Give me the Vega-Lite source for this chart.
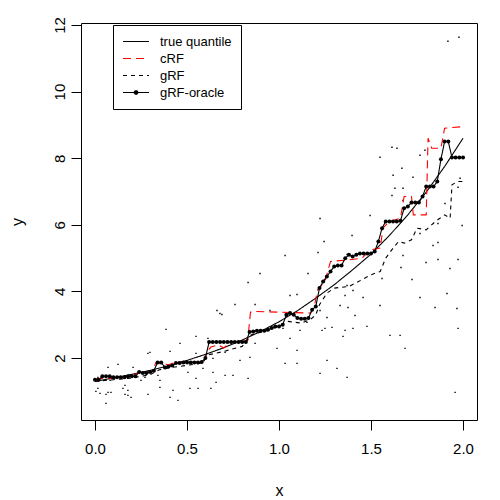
{
  "$schema": "https://vega.github.io/schema/vega-lite/v6.json",
  "autosize": "none",
  "width": 396,
  "height": 397,
  "padding": {"left": 81, "top": 23, "right": 23, "bottom": 80},
  "background": "white",
  "config": {
    "view": {"stroke": "black", "strokeWidth": 1},
    "font": "Liberation Sans",
    "axis": {"grid": false, "domain": false, "tickColor": "black", "tickSize": 10, "labelFont": "Liberation Sans", "labelFontSize": 15, "labelColor": "black", "titleFont": "Liberation Sans", "titleFontSize": 16, "titleFontWeight": "normal", "titleColor": "black"}
  },
  "datasets": {
    "scatter": [
      {"x": 1.978, "y": 11.63}, {"x": 1.918, "y": 11.51}, {"x": 1.614, "y": 8.33}, {"x": 1.641, "y": 8.3}, {"x": 1.549, "y": 8.03},
      {"x": 1.766, "y": 8.09}, {"x": 1.793, "y": 8.24}, {"x": 1.668, "y": 7.7}, {"x": 1.62, "y": 7.49}, {"x": 1.728, "y": 7.43},
      {"x": 1.63, "y": 7.1}, {"x": 1.984, "y": 7.4}, {"x": 1.973, "y": 7.13}, {"x": 1.674, "y": 6.73}, {"x": 1.902, "y": 6.64},
      {"x": 1.614, "y": 6.88}, {"x": 1.674, "y": 7.1}, {"x": 1.495, "y": 6.28}, {"x": 1.864, "y": 6.04}, {"x": 1.995, "y": 5.98},
      {"x": 1.397, "y": 5.68}, {"x": 1.245, "y": 5.5}, {"x": 1.223, "y": 6.19}, {"x": 1.864, "y": 5.47}, {"x": 1.837, "y": 5.38},
      {"x": 1.766, "y": 5.74}, {"x": 1.674, "y": 5.08}, {"x": 1.799, "y": 4.87}, {"x": 1.864, "y": 4.96}, {"x": 1.973, "y": 4.96},
      {"x": 1.929, "y": 4.69}, {"x": 1.663, "y": 4.72}, {"x": 1.723, "y": 4.36}, {"x": 1.56, "y": 4.39}, {"x": 1.457, "y": 3.82},
      {"x": 1.402, "y": 4.03}, {"x": 1.332, "y": 3.58}, {"x": 1.223, "y": 3.43}, {"x": 1.375, "y": 3.52}, {"x": 1.413, "y": 3.28},
      {"x": 1.549, "y": 3.58}, {"x": 1.848, "y": 3.52}, {"x": 1.967, "y": 3.49}, {"x": 1.402, "y": 2.89}, {"x": 1.288, "y": 2.92},
      {"x": 1.234, "y": 2.83}, {"x": 1.348, "y": 2.65}, {"x": 1.603, "y": 2.68}, {"x": 1.658, "y": 2.68}, {"x": 1.478, "y": 2.95},
      {"x": 1.913, "y": 3.94}, {"x": 1.766, "y": 3.82}, {"x": 1.973, "y": 2.89}, {"x": 1.685, "y": 2.29}, {"x": 1.957, "y": 0.97},
      {"x": 1.212, "y": 5.17}, {"x": 1.37, "y": 5.11}, {"x": 1.033, "y": 5.08}, {"x": 0.897, "y": 4.54}, {"x": 1.158, "y": 4.54},
      {"x": 0.832, "y": 4.27}, {"x": 1.37, "y": 4.18}, {"x": 0.761, "y": 3.61}, {"x": 0.87, "y": 3.61}, {"x": 1.06, "y": 3.88},
      {"x": 1.098, "y": 3.91}, {"x": 1.359, "y": 3.88}, {"x": 0.951, "y": 3.43}, {"x": 0.679, "y": 3.34}, {"x": 1.261, "y": 3.22},
      {"x": 1.25, "y": 2.89}, {"x": 1.359, "y": 2.83}, {"x": 1.152, "y": 3.07}, {"x": 1.005, "y": 2.98}, {"x": 1.022, "y": 2.89},
      {"x": 0.614, "y": 2.59}, {"x": 1.06, "y": 2.59}, {"x": 0.87, "y": 2.44}, {"x": 0.989, "y": 2.29}, {"x": 1.098, "y": 2.23},
      {"x": 0.707, "y": 2.17}, {"x": 0.842, "y": 2.02}, {"x": 0.641, "y": 1.99}, {"x": 1.033, "y": 1.84}, {"x": 0.788, "y": 1.93},
      {"x": 1.261, "y": 1.93}, {"x": 0.587, "y": 1.69}, {"x": 0.75, "y": 1.48}, {"x": 0.832, "y": 1.39}, {"x": 1.098, "y": 1.84},
      {"x": 1.223, "y": 1.54}, {"x": 1.315, "y": 1.69}, {"x": 1.37, "y": 1.42}, {"x": 1.114, "y": 2.83},
      {"x": 0.386, "y": 2.86}, {"x": 0.663, "y": 3.43}, {"x": 0.69, "y": 3.31}, {"x": 0.288, "y": 2.14}, {"x": 0.299, "y": 2.17},
      {"x": 0.408, "y": 2.2}, {"x": 0.549, "y": 2.65}, {"x": 0.462, "y": 2.44}, {"x": 0.549, "y": 2.14}, {"x": 0.125, "y": 1.81},
      {"x": 0.071, "y": 1.72}, {"x": 0.207, "y": 1.72}, {"x": 0.342, "y": 1.48}, {"x": 0.353, "y": 1.33}, {"x": 0.505, "y": 1.57},
      {"x": 0.549, "y": 1.39}, {"x": 0.641, "y": 1.57}, {"x": 0.658, "y": 1.27}, {"x": 0.707, "y": 1.48}, {"x": 0.63, "y": 1.09},
      {"x": 0.163, "y": 1.18}, {"x": 0.152, "y": 1.09}, {"x": 0.179, "y": 1.03}, {"x": 0.071, "y": 0.97}, {"x": 0.016, "y": 1.09},
      {"x": 0.087, "y": 0.97}, {"x": 0.06, "y": 0.64}, {"x": 0.179, "y": 0.88}, {"x": 0.196, "y": 0.82}, {"x": 0.163, "y": 0.91},
      {"x": 0.288, "y": 0.91}, {"x": 0.408, "y": 0.82}, {"x": 0.451, "y": 0.73}, {"x": 0.424, "y": 1.03}, {"x": 0.516, "y": 1.09},
      {"x": 0.56, "y": 1.09}, {"x": 0.272, "y": 1.42}, {"x": 0.016, "y": 1.42}, {"x": 0.082, "y": 1.33}, {"x": 0.027, "y": 0.94},
      {"x": 0.005, "y": 1.0}, {"x": 0.06, "y": 0.91}, {"x": 0.25, "y": 1.33}, {"x": 0.353, "y": 1.12}
    ],
    "curves": [
      {"s": "true quantile", "x": 0.0, "y": 1.3}, {"s": "true quantile", "x": 0.1, "y": 1.4}, {"s": "true quantile", "x": 0.2, "y": 1.51},
      {"s": "true quantile", "x": 0.3, "y": 1.63}, {"s": "true quantile", "x": 0.4, "y": 1.77}, {"s": "true quantile", "x": 0.5, "y": 1.93},
      {"s": "true quantile", "x": 0.6, "y": 2.11}, {"s": "true quantile", "x": 0.7, "y": 2.31}, {"s": "true quantile", "x": 0.8, "y": 2.54},
      {"s": "true quantile", "x": 0.9, "y": 2.8}, {"s": "true quantile", "x": 1.0, "y": 3.09}, {"s": "true quantile", "x": 1.1, "y": 3.42},
      {"s": "true quantile", "x": 1.2, "y": 3.8}, {"s": "true quantile", "x": 1.3, "y": 4.2}, {"s": "true quantile", "x": 1.4, "y": 4.65},
      {"s": "true quantile", "x": 1.5, "y": 5.12}, {"s": "true quantile", "x": 1.6, "y": 5.68}, {"s": "true quantile", "x": 1.7, "y": 6.3},
      {"s": "true quantile", "x": 1.8, "y": 6.98}, {"s": "true quantile", "x": 1.9, "y": 7.75}, {"s": "true quantile", "x": 2.0, "y": 8.6},
      {"s": "cRF", "x": 0.0, "y": 1.38}, {"s": "cRF", "x": 0.12, "y": 1.4}, {"s": "cRF", "x": 0.2, "y": 1.45}, {"s": "cRF", "x": 0.24, "y": 1.58},
      {"s": "cRF", "x": 0.31, "y": 1.58}, {"s": "cRF", "x": 0.33, "y": 1.85}, {"s": "cRF", "x": 0.4, "y": 1.8}, {"s": "cRF", "x": 0.44, "y": 1.88},
      {"s": "cRF", "x": 0.59, "y": 1.88}, {"s": "cRF", "x": 0.61, "y": 2.2}, {"s": "cRF", "x": 0.63, "y": 2.33}, {"s": "cRF", "x": 0.67, "y": 2.4},
      {"s": "cRF", "x": 0.7, "y": 2.3}, {"s": "cRF", "x": 0.73, "y": 2.45}, {"s": "cRF", "x": 0.83, "y": 2.53}, {"s": "cRF", "x": 0.845, "y": 3.38},
      {"s": "cRF", "x": 0.86, "y": 3.4}, {"s": "cRF", "x": 1.17, "y": 3.35}, {"s": "cRF", "x": 1.19, "y": 3.5}, {"s": "cRF", "x": 1.21, "y": 4.05},
      {"s": "cRF", "x": 1.25, "y": 4.3}, {"s": "cRF", "x": 1.28, "y": 4.9}, {"s": "cRF", "x": 1.38, "y": 4.95}, {"s": "cRF", "x": 1.45, "y": 5.0},
      {"s": "cRF", "x": 1.5, "y": 5.25}, {"s": "cRF", "x": 1.55, "y": 5.3}, {"s": "cRF", "x": 1.565, "y": 5.9}, {"s": "cRF", "x": 1.6, "y": 6.1},
      {"s": "cRF", "x": 1.66, "y": 6.2}, {"s": "cRF", "x": 1.68, "y": 6.85}, {"s": "cRF", "x": 1.72, "y": 6.85}, {"s": "cRF", "x": 1.73, "y": 6.3},
      {"s": "cRF", "x": 1.8, "y": 6.3}, {"s": "cRF", "x": 1.81, "y": 8.6}, {"s": "cRF", "x": 1.83, "y": 8.3}, {"s": "cRF", "x": 1.88, "y": 8.3},
      {"s": "cRF", "x": 1.9, "y": 8.9}, {"s": "cRF", "x": 2.0, "y": 8.95},
      {"s": "gRF", "x": 0.0, "y": 1.3}, {"s": "gRF", "x": 0.1, "y": 1.35}, {"s": "gRF", "x": 0.2, "y": 1.4}, {"s": "gRF", "x": 0.3, "y": 1.5},
      {"s": "gRF", "x": 0.35, "y": 1.65}, {"s": "gRF", "x": 0.42, "y": 1.72}, {"s": "gRF", "x": 0.5, "y": 1.78}, {"s": "gRF", "x": 0.58, "y": 1.85},
      {"s": "gRF", "x": 0.62, "y": 2.1}, {"s": "gRF", "x": 0.7, "y": 2.2}, {"s": "gRF", "x": 0.8, "y": 2.35}, {"s": "gRF", "x": 0.85, "y": 2.7},
      {"s": "gRF", "x": 0.92, "y": 2.8}, {"s": "gRF", "x": 1.0, "y": 2.95}, {"s": "gRF", "x": 1.05, "y": 3.1}, {"s": "gRF", "x": 1.12, "y": 3.05},
      {"s": "gRF", "x": 1.17, "y": 3.15}, {"s": "gRF", "x": 1.2, "y": 3.3}, {"s": "gRF", "x": 1.22, "y": 3.6}, {"s": "gRF", "x": 1.26, "y": 3.95},
      {"s": "gRF", "x": 1.3, "y": 4.1}, {"s": "gRF", "x": 1.38, "y": 4.15}, {"s": "gRF", "x": 1.45, "y": 4.35}, {"s": "gRF", "x": 1.5, "y": 4.5},
      {"s": "gRF", "x": 1.55, "y": 4.6}, {"s": "gRF", "x": 1.58, "y": 5.0}, {"s": "gRF", "x": 1.62, "y": 5.3}, {"s": "gRF", "x": 1.65, "y": 5.5},
      {"s": "gRF", "x": 1.68, "y": 5.45}, {"s": "gRF", "x": 1.72, "y": 5.55}, {"s": "gRF", "x": 1.75, "y": 5.9}, {"s": "gRF", "x": 1.8, "y": 5.85},
      {"s": "gRF", "x": 1.85, "y": 6.1}, {"s": "gRF", "x": 1.9, "y": 6.3}, {"s": "gRF", "x": 1.93, "y": 6.2}, {"s": "gRF", "x": 1.94, "y": 7.2},
      {"s": "gRF", "x": 1.97, "y": 7.3}, {"s": "gRF", "x": 2.0, "y": 7.3},
      {"s": "gRF-oracle", "x": 0.0, "y": 1.35}, {"s": "gRF-oracle", "x": 0.02, "y": 1.35}, {"s": "gRF-oracle", "x": 0.04, "y": 1.45},
      {"s": "gRF-oracle", "x": 0.06, "y": 1.45}, {"s": "gRF-oracle", "x": 0.08, "y": 1.45}, {"s": "gRF-oracle", "x": 0.1, "y": 1.42},
      {"s": "gRF-oracle", "x": 0.12, "y": 1.42}, {"s": "gRF-oracle", "x": 0.14, "y": 1.42}, {"s": "gRF-oracle", "x": 0.16, "y": 1.42},
      {"s": "gRF-oracle", "x": 0.18, "y": 1.45}, {"s": "gRF-oracle", "x": 0.2, "y": 1.45}, {"s": "gRF-oracle", "x": 0.22, "y": 1.45},
      {"s": "gRF-oracle", "x": 0.24, "y": 1.58}, {"s": "gRF-oracle", "x": 0.26, "y": 1.55}, {"s": "gRF-oracle", "x": 0.28, "y": 1.55},
      {"s": "gRF-oracle", "x": 0.3, "y": 1.58}, {"s": "gRF-oracle", "x": 0.32, "y": 1.62}, {"s": "gRF-oracle", "x": 0.34, "y": 1.87},
      {"s": "gRF-oracle", "x": 0.36, "y": 1.87}, {"s": "gRF-oracle", "x": 0.38, "y": 1.72}, {"s": "gRF-oracle", "x": 0.4, "y": 1.75},
      {"s": "gRF-oracle", "x": 0.42, "y": 1.78}, {"s": "gRF-oracle", "x": 0.44, "y": 1.85}, {"s": "gRF-oracle", "x": 0.46, "y": 1.85},
      {"s": "gRF-oracle", "x": 0.48, "y": 1.87}, {"s": "gRF-oracle", "x": 0.5, "y": 1.87}, {"s": "gRF-oracle", "x": 0.52, "y": 1.87},
      {"s": "gRF-oracle", "x": 0.54, "y": 1.87}, {"s": "gRF-oracle", "x": 0.56, "y": 1.87}, {"s": "gRF-oracle", "x": 0.58, "y": 1.88},
      {"s": "gRF-oracle", "x": 0.6, "y": 2.0}, {"s": "gRF-oracle", "x": 0.62, "y": 2.48}, {"s": "gRF-oracle", "x": 0.64, "y": 2.48},
      {"s": "gRF-oracle", "x": 0.66, "y": 2.48}, {"s": "gRF-oracle", "x": 0.68, "y": 2.48}, {"s": "gRF-oracle", "x": 0.7, "y": 2.48},
      {"s": "gRF-oracle", "x": 0.72, "y": 2.48}, {"s": "gRF-oracle", "x": 0.74, "y": 2.48}, {"s": "gRF-oracle", "x": 0.76, "y": 2.48},
      {"s": "gRF-oracle", "x": 0.78, "y": 2.48}, {"s": "gRF-oracle", "x": 0.8, "y": 2.48}, {"s": "gRF-oracle", "x": 0.82, "y": 2.48},
      {"s": "gRF-oracle", "x": 0.84, "y": 2.78}, {"s": "gRF-oracle", "x": 0.86, "y": 2.8}, {"s": "gRF-oracle", "x": 0.88, "y": 2.82},
      {"s": "gRF-oracle", "x": 0.9, "y": 2.82}, {"s": "gRF-oracle", "x": 0.92, "y": 2.82}, {"s": "gRF-oracle", "x": 0.94, "y": 2.85},
      {"s": "gRF-oracle", "x": 0.96, "y": 2.9}, {"s": "gRF-oracle", "x": 0.98, "y": 2.95}, {"s": "gRF-oracle", "x": 1.0, "y": 2.95},
      {"s": "gRF-oracle", "x": 1.02, "y": 3.0}, {"s": "gRF-oracle", "x": 1.04, "y": 3.3}, {"s": "gRF-oracle", "x": 1.06, "y": 3.35},
      {"s": "gRF-oracle", "x": 1.08, "y": 3.3}, {"s": "gRF-oracle", "x": 1.1, "y": 3.2}, {"s": "gRF-oracle", "x": 1.12, "y": 3.18},
      {"s": "gRF-oracle", "x": 1.14, "y": 3.18}, {"s": "gRF-oracle", "x": 1.16, "y": 3.2}, {"s": "gRF-oracle", "x": 1.18, "y": 3.45},
      {"s": "gRF-oracle", "x": 1.2, "y": 3.55}, {"s": "gRF-oracle", "x": 1.22, "y": 4.1}, {"s": "gRF-oracle", "x": 1.24, "y": 4.3},
      {"s": "gRF-oracle", "x": 1.26, "y": 4.45}, {"s": "gRF-oracle", "x": 1.28, "y": 4.6}, {"s": "gRF-oracle", "x": 1.3, "y": 4.75},
      {"s": "gRF-oracle", "x": 1.32, "y": 4.78}, {"s": "gRF-oracle", "x": 1.34, "y": 4.78}, {"s": "gRF-oracle", "x": 1.36, "y": 5.0},
      {"s": "gRF-oracle", "x": 1.38, "y": 5.1}, {"s": "gRF-oracle", "x": 1.4, "y": 5.05}, {"s": "gRF-oracle", "x": 1.42, "y": 5.1},
      {"s": "gRF-oracle", "x": 1.44, "y": 5.14}, {"s": "gRF-oracle", "x": 1.46, "y": 5.14}, {"s": "gRF-oracle", "x": 1.48, "y": 5.14},
      {"s": "gRF-oracle", "x": 1.5, "y": 5.14}, {"s": "gRF-oracle", "x": 1.52, "y": 5.2}, {"s": "gRF-oracle", "x": 1.54, "y": 5.5},
      {"s": "gRF-oracle", "x": 1.56, "y": 5.9}, {"s": "gRF-oracle", "x": 1.58, "y": 6.1}, {"s": "gRF-oracle", "x": 1.6, "y": 6.1},
      {"s": "gRF-oracle", "x": 1.62, "y": 6.1}, {"s": "gRF-oracle", "x": 1.64, "y": 6.1}, {"s": "gRF-oracle", "x": 1.66, "y": 6.12},
      {"s": "gRF-oracle", "x": 1.68, "y": 6.5}, {"s": "gRF-oracle", "x": 1.7, "y": 6.55}, {"s": "gRF-oracle", "x": 1.72, "y": 6.67},
      {"s": "gRF-oracle", "x": 1.74, "y": 6.67}, {"s": "gRF-oracle", "x": 1.76, "y": 6.67}, {"s": "gRF-oracle", "x": 1.78, "y": 6.85},
      {"s": "gRF-oracle", "x": 1.8, "y": 7.15}, {"s": "gRF-oracle", "x": 1.82, "y": 7.15}, {"s": "gRF-oracle", "x": 1.84, "y": 7.15},
      {"s": "gRF-oracle", "x": 1.86, "y": 7.3}, {"s": "gRF-oracle", "x": 1.88, "y": 7.97}, {"s": "gRF-oracle", "x": 1.9, "y": 8.5},
      {"s": "gRF-oracle", "x": 1.92, "y": 8.5}, {"s": "gRF-oracle", "x": 1.94, "y": 8.02}, {"s": "gRF-oracle", "x": 1.96, "y": 8.02},
      {"s": "gRF-oracle", "x": 1.98, "y": 8.02}, {"s": "gRF-oracle", "x": 2.0, "y": 8.02}
    ]
  },
  "layer": [
    {
      "data": {"name": "scatter"},
      "mark": {"type": "square", "size": 2, "color": "black", "opacity": 1},
      "encoding": {
        "x": {"field": "x", "type": "quantitative", "scale": {"domain": [-0.076, 2.076], "nice": false, "zero": false},
              "axis": {"values": [0, 0.5, 1, 1.5, 2], "format": ".1f", "labelPadding": 11, "title": "x", "titlePadding": 26}},
        "y": {"field": "y", "type": "quantitative", "scale": {"domain": [0.14, 12.06], "nice": false, "zero": false},
              "axis": {"values": [2, 4, 6, 8, 10, 12], "labelAngle": -90, "labelAlign": "center", "labelBaseline": "bottom", "labelPadding": 4, "title": "y", "titlePadding": 27}}
      }
    },
    {
      "data": {"name": "curves"},
      "mark": {"type": "line", "strokeWidth": 1.1},
      "encoding": {
        "x": {"field": "x", "type": "quantitative"},
        "y": {"field": "y", "type": "quantitative"},
        "color": {"field": "s", "type": "nominal", "title": null,
                  "scale": {"domain": ["true quantile", "cRF", "gRF", "gRF-oracle"], "range": ["black", "#ff0000", "black", "black"]},
                  "legend": {"orient": "none", "legendX": 32, "legendY": 2, "symbolType": "stroke", "symbolSize": 676, "symbolStrokeWidth": 1.1,
                             "strokeColor": "black", "padding": 9, "clipHeight": 15, "rowPadding": 2, "labelOffset": 10,
                             "labelFont": "Liberation Sans", "labelFontSize": 13, "labelColor": "black",
                             "encode": {"symbols": {"update": {
                               "shape": {"signal": "datum.label === 'gRF-oracle' ? 'M-1,0L1,0M0.14,0A0.14,0.14,0,1,1,-0.14,0A0.14,0.14,0,1,1,0.14,0Z' : 'stroke'"},
                               "fill": {"signal": "datum.label === 'gRF-oracle' ? 'black' : 'transparent'"}}}}}},
        "strokeDash": {"field": "s", "type": "nominal", "title": null,
                       "scale": {"domain": ["true quantile", "cRF", "gRF", "gRF-oracle"], "range": [[1, 0], [8, 5], [4, 4], [1, 0]]}}
      }
    },
    {
      "data": {"name": "curves"},
      "transform": [{"filter": "datum.s === 'gRF-oracle'"}],
      "mark": {"type": "circle", "size": 16, "color": "black", "opacity": 1},
      "encoding": {
        "x": {"field": "x", "type": "quantitative"},
        "y": {"field": "y", "type": "quantitative"}
      }
    }
  ]
}
